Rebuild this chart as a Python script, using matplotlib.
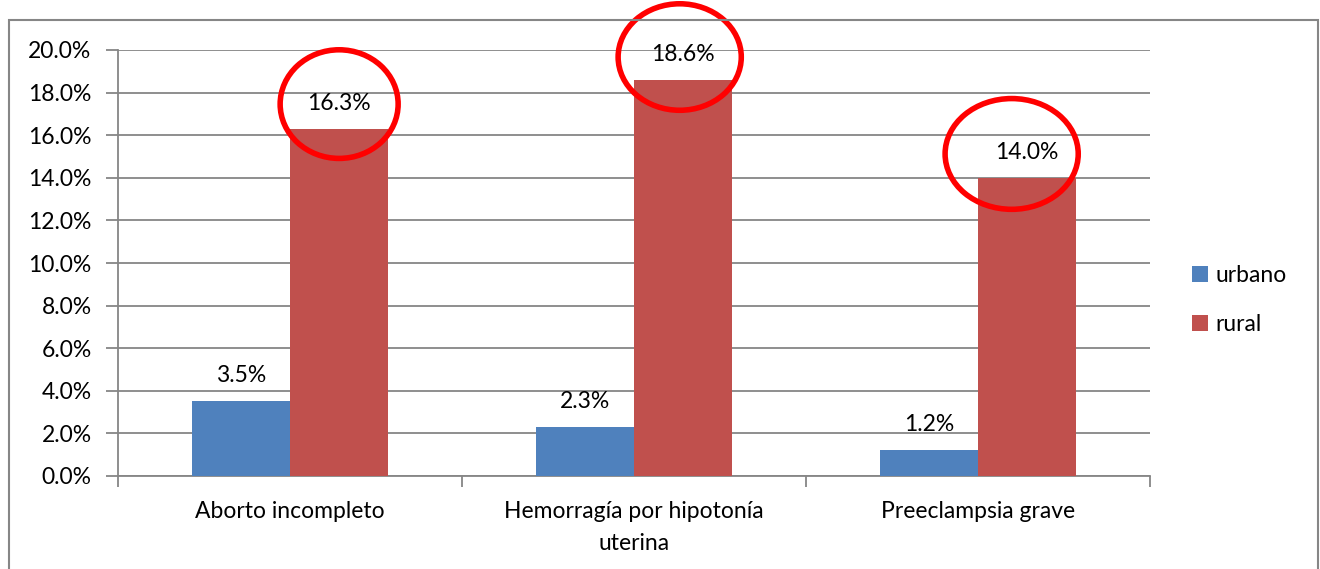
import matplotlib
matplotlib.use("Agg")
import matplotlib.pyplot as plt
from matplotlib.patches import Ellipse, Rectangle
from matplotlib.ticker import FixedLocator, PercentFormatter
import numpy as np

categories = ["Aborto incompleto", "Hemorragía por hipotonía\nuterina", "Preeclampsia grave"]
urbano = [3.5, 2.3, 1.2]
rural = [16.3, 18.6, 14.0]
series_names = ["urbano", "rural"]
yticks = [0, 2, 4, 6, 8, 10, 12, 14, 16, 18, 20]
# highlight circles around rural labels: (category index, x offset, y centre, width, height)
circles = [(0, 0.0, 17.46, 0.343, 5.1), (1, -0.01, 19.67, 0.358, 5.0), (2, -0.045, 15.12, 0.387, 5.2)]

plt.rcParams['font.family'] = ['Lato', 'DejaVu Sans']

W, H = 1320, 569
FS = 16.5
fig = plt.figure(figsize=(W / 100, H / 100), dpi=100)
# outer chart border
fig.patches.append(Rectangle((9 / W, -0.01), (1318 - 9) / W, 1 - 20 / H + 0.01,
                             transform=fig.transFigure, fill=False,
                             edgecolor="#868686", linewidth=1.5))

ax = fig.add_axes([118 / W, 1 - 476 / H, (1150 - 118) / W, (476 - 50) / H])
x = np.arange(len(categories))
bw = 1 / 3.5
blue = "#4F81BD"
red = "#C0504D"
ax.bar(x - bw / 2, urbano, bw, color=blue, label=series_names[0], zorder=3)
ax.bar(x + bw / 2, rural, bw, color=red, label=series_names[1], zorder=3)

ax.set_xlim(-0.5, len(categories) - 0.5)
ax.set_ylim(0, 20)
ax.set_yticks(yticks)
ax.yaxis.set_major_formatter(PercentFormatter(decimals=1))
ax.grid(axis="y", color="#868686", linewidth=1.3, zorder=0)
for s in ["top", "right"]:
    ax.spines[s].set_visible(False)
for s in ["left", "bottom"]:
    ax.spines[s].set_color("#868686")
    ax.spines[s].set_linewidth(1.3)
ax.tick_params(axis="y", length=9, width=1.3, color="#868686", labelsize=FS, pad=10)
ax.set_xticks(x)
ax.set_xticklabels(categories)
ax.tick_params(axis="x", which="major", length=0, labelsize=FS, pad=18)
ax.xaxis.set_minor_locator(FixedLocator(np.arange(-0.5, len(categories), 1.0)))
ax.tick_params(axis="x", which="minor", length=8, width=1.3, color="#868686")
for lbl in ax.get_xticklabels():
    lbl.set_linespacing(1.65)

for i in range(len(categories)):
    ax.text(x[i] - bw / 2, urbano[i] + 1.2, f"{urbano[i]:.1f}%", ha="center", va="center", fontsize=FS, zorder=5)
    ax.text(x[i] + bw / 2, rural[i] + 1.2, f"{rural[i]:.1f}%", ha="center", va="center", fontsize=FS, zorder=5)

for ci, dx, cy, w, h in circles:
    ax.add_patch(Ellipse((x[ci] + bw / 2 + dx, cy), w, h, fill=False, edgecolor="#FF0000",
                         linewidth=4, clip_on=False, zorder=6))

leg = fig.legend(loc="upper left", bbox_to_anchor=(1183 / W, 1 - 256 / H), frameon=False,
                 fontsize=FS, handlelength=0.7, handleheight=0.7, handletextpad=0.3,
                 labelspacing=1.2, borderaxespad=0)

fig.savefig("out.png", dpi=100)
